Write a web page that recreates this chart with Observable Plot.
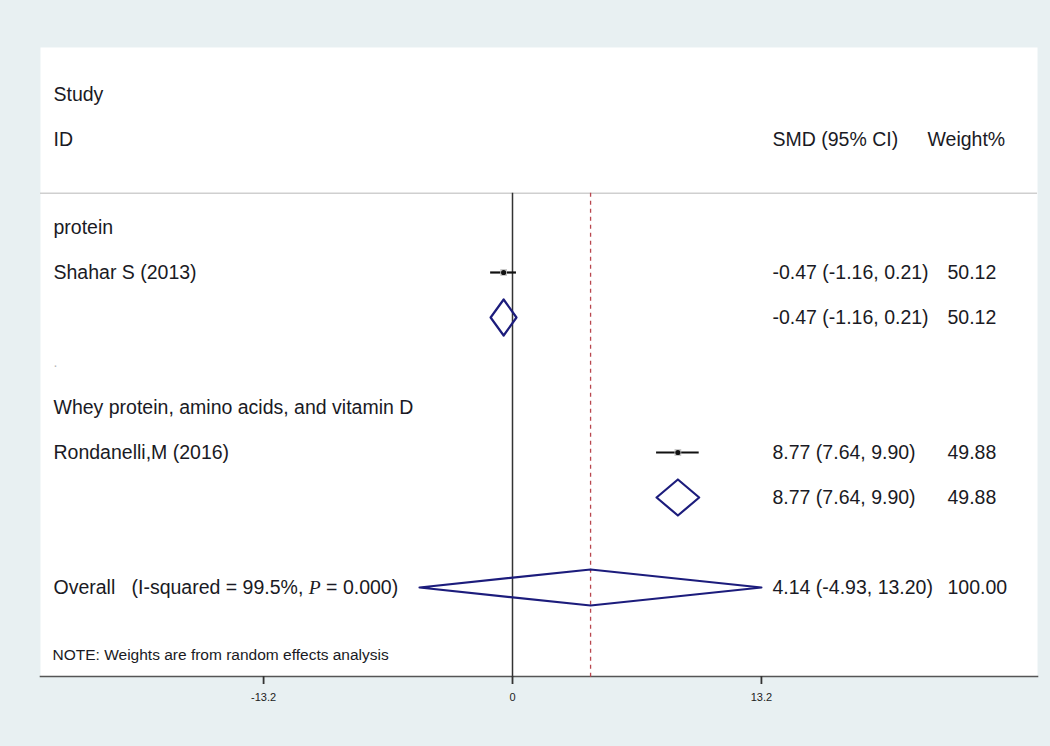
<!DOCTYPE html>
<html>
<head>
<meta charset="utf-8">
<script src="https://cdn.jsdelivr.net/npm/d3@7"></script>
<script src="https://cdn.jsdelivr.net/npm/@observablehq/plot@0.6"></script>
<style>
  html, body { margin: 0; padding: 0; background: #e8f0f2; }
  #chart svg { display: block; }
</style>
</head>
<body>
<div id="chart"></div>
<script>
// ---- data ----
const rowLabels = ["protein", "Shahar S (2013)", "", ".", "Whey protein, amino acids, and vitamin D", "Rondanelli,M (2016)", "", "", "Overall  (I-squared = 99.5%, P = 0.000)"];
const rowTypes  = ["group", "study", "subtotal", "blank", "group", "study", "subtotal", "blank", "overall"];
const smd    = [null, -0.47, -0.47, null, null, 8.77, 8.77, null, 4.14];
const lower  = [null, -1.16, -1.16, null, null, 7.64, 7.64, null, -4.93];
const upper  = [null, 0.21, 0.21, null, null, 9.90, 9.90, null, 13.20];
const weight = [null, 50.12, 50.12, null, null, 49.88, 49.88, null, 100.00];
const xTicks = [-13.2, 0, 13.2];
const headerLeft = ["Study", "ID"];
const headerEffect = "SMD (95% CI)";
const headerWeight = "Weight%";
const note = "NOTE: Weights are from random effects analysis";
const overallEffect = 4.14;

// ---- derived tables ----
const rows = rowLabels.map((label, i) => ({
  i, label, type: rowTypes[i], est: smd[i], lo: lower[i], hi: upper[i], w: weight[i],
  effText: smd[i] == null ? "" : `${smd[i].toFixed(2)} (${lower[i].toFixed(2)}, ${upper[i].toFixed(2)})`,
  wText: weight[i] == null ? "" : weight[i].toFixed(2)
}));
const studiesT = rows.filter(d => d.type === "study");
const pooled = rows.filter(d => d.type === "subtotal" || d.type === "overall");
const H = 0.4;
const diamondPts = pooled.flatMap(d => [
  {x: d.lo, y: d.i, z: d.i}, {x: d.est, y: d.i - H, z: d.i}, {x: d.hi, y: d.i, z: d.i},
  {x: d.est, y: d.i + H, z: d.i}, {x: d.lo, y: d.i, z: d.i}
]);

const lineRow = -0.76, bottomRow = 10;
const font = "Liberation Sans, Arial, Helvetica, sans-serif";
const txt = "#1a1a24";
const fs = 19.5;

const chart = Plot.plot({
  width: 1050, height: 746,
  marginLeft: 40, marginRight: 13, marginTop: 47, marginBottom: 70,
  style: {background: "#e8f0f2", fontFamily: font},
  x: {domain: [-25.03, 27.84]},
  y: {domain: [0, 1], range: [227, 272], axis: null},
  marks: [
    Plot.frame({fill: "white", stroke: null}),
    Plot.frame({anchor: "bottom", stroke: "#555", strokeWidth: 1.6}),
    Plot.ruleY([lineRow], {stroke: "#cfcfcf", strokeWidth: 1.6}),
    Plot.ruleX([0], {y1: lineRow, y2: bottomRow, stroke: "#333", strokeWidth: 1.5}),
    Plot.ruleX([overallEffect], {y1: lineRow, y2: bottomRow, stroke: "#b9474f", strokeWidth: 1.3, strokeDasharray: "4,4"}),
    Plot.axisX({ticks: xTicks, tickFormat: d => String(d), tickSize: 8, tickPadding: 9, fontSize: 11, stroke: "#333", fill: "#222", strokeWidth: 1.8}),
    // study CIs
    Plot.ruleY(studiesT, {y: "i", x1: "lo", x2: "hi", stroke: "#111", strokeWidth: 2.2}),
    Plot.dot(studiesT, {x: "est", y: "i", symbol: "square", r: 3.8, fill: "#c4c4c4", stroke: null}),
    Plot.dot(studiesT, {x: "est", y: "i", r: 2.6, fill: "#111", stroke: null}),
    // diamonds
    Plot.line(diamondPts, {x: "x", y: "y", z: "z", stroke: "#1c1c7c", strokeWidth: 2.2, curve: "linear"}),
    // header text
    Plot.text(headerLeft, {y: (d, k) => k - 2.96, text: d => d, frameAnchor: "left", dx: 13, textAnchor: "start", fontSize: fs, fill: txt}),
    Plot.text([headerEffect], {y: () => -1.96, text: d => d, frameAnchor: "left", dx: 732, textAnchor: "start", fontSize: fs, fill: txt}),
    Plot.text([headerWeight], {y: () => -1.96, text: d => d, frameAnchor: "left", dx: 887, textAnchor: "start", fontSize: fs, fill: txt}),
    // row labels
    Plot.text(rows.filter(d => d.label && d.type !== "blank"), {y: "i", text: "label", frameAnchor: "left", dx: 13, textAnchor: "start", fontSize: fs, fill: txt}),
    Plot.text(rows.filter(d => d.type === "blank" && d.label), {y: "i", text: "label", frameAnchor: "left", dx: 13, textAnchor: "start", fontSize: 14, fill: "#b8b8b8"}),
    Plot.text(rows.filter(d => d.effText), {y: "i", text: "effText", frameAnchor: "left", dx: 732, textAnchor: "start", fontSize: fs, fill: txt}),
    Plot.text(rows.filter(d => d.wText), {y: "i", text: "wText", frameAnchor: "left", dx: 907, textAnchor: "start", fontSize: fs, fill: txt}),
    Plot.text([note], {y: () => 9.5, text: d => d, frameAnchor: "left", dx: 12, textAnchor: "start", fontSize: 15.5, fill: txt})
  ]
});

// italic P in the overall label
d3.select(chart).selectAll("text").each(function() {
  const t = this.textContent;
  if (t.includes("P = 0.000")) {
    const parts = t.split("P");
    const sel = d3.select(this);
    sel.text(null).style("white-space", "pre");
    sel.append("tspan").text(parts[0].replace("  ", "   "));
    sel.append("tspan").attr("font-style", "italic").attr("font-family", "Liberation Serif, Times New Roman, serif").text("P");
    sel.append("tspan").text(parts[1]);
  }
});

document.getElementById("chart").appendChild(chart);
</script>
</body>
</html>
